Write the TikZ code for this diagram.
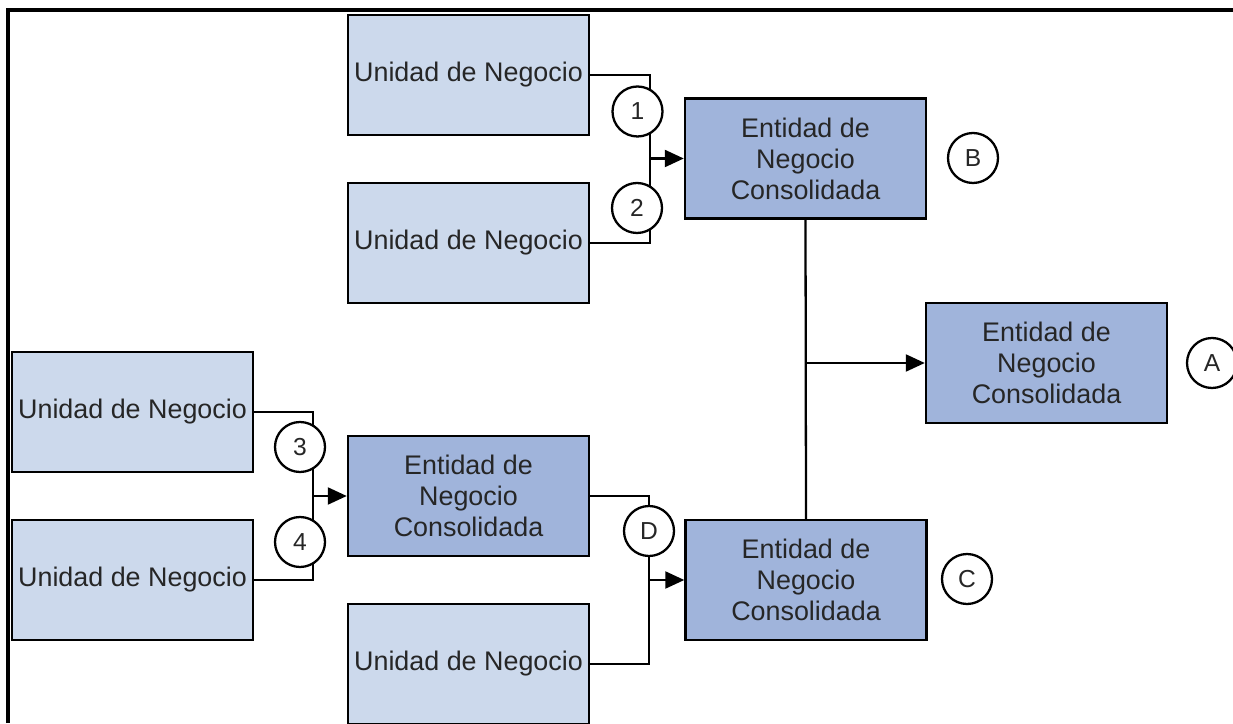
\documentclass[tikz,border=0pt]{standalone}
\usepackage{fontspec}
\setmainfont{Liberation Sans}
\usetikzlibrary{arrows.meta}

\definecolor{unitfill}{RGB}{204,217,236}
\definecolor{entityfill}{RGB}{160,180,219}

\begin{document}
\begin{tikzpicture}[
    unit/.style={draw, line width=1.4pt, fill=unitfill, minimum width=4.82cm, minimum height=2.4cm,
                 inner sep=0pt, text=black!85, font=\fontsize{15.3}{17.6}\selectfont},
    entity/.style={unit, fill=entityfill, align=center},
    tag/.style={draw, circle, line width=1.3pt, fill=white, minimum size=1cm, inner sep=0pt,
                text=black!85, font=\fontsize{14}{16}\selectfont},
    link/.style={line width=1.3pt},
    feed/.style={link, -{Triangle[length=0.38cm, width=0.34cm]}}
]
    \useasboundingbox (0,0) rectangle (24.66,14.46);

    % Frame
    \draw[line width=1.8pt] (0.16,0) -- (0.16,14.26) -- (24.66,14.26);

    % Top Unit Boxes
    \node[unit] (un1) at (9.37,12.96) {Unidad de Negocio};
    \node[unit] (un2) at (9.37,9.6) {Unidad de Negocio};

    % Entity B
    \node[entity] (ecB) at (16.11,11.29) {Entidad de\\Negocio\\Consolidada};
    \coordinate (jB) at (13.0,11.29);
    \draw[link] (un1.east) -| (jB) |- (un2.east);
    \draw[feed] (jB) -- (ecB);
    \node[tag] (c1) at (12.75,12.23) {1};
    \node[tag] (c2) at (12.74,10.3) {2};
    \node[tag] (cB) at (19.46,11.3) {B};

    % Left Unit Boxes
    \node[unit] (un3) at (2.65,6.22) {Unidad de Negocio};
    \node[unit] (un4) at (2.65,2.86) {Unidad de Negocio};

    % Entity D
    \node[entity] (ecD) at (9.37,4.54) {Entidad de\\Negocio\\Consolidada};
    \coordinate (jD) at (6.26,4.54);
    \draw[link] (un3.east) -| (jD) |- (un4.east);
    \draw[feed] (jD) -- (ecD);
    \node[tag] (c3) at (6.0,5.52) {3};
    \node[tag] (c4) at (6.0,3.62) {4};

    % Entity C
    \node[unit] (un5) at (9.37,1.18) {Unidad de Negocio};
    \node[entity] (ecC) at (16.12,2.86) {Entidad de\\Negocio\\Consolidada};
    \coordinate (jC) at (12.98,2.86);
    \draw[link] (ecD.east) -| (jC) |- (un5.east);
    \draw[feed] (jC) -- (ecC);
    \node[tag] (cD) at (12.98,3.84) {D};
    \node[tag] (cC) at (19.34,2.88) {C};

    % Entity A
    \node[entity] (ecA) at (20.93,7.2) {Entidad de\\Negocio\\Consolidada};
    \coordinate (jA) at (16.12,7.2);
    \draw[link] (ecB.south) -- (ecC.north);
    \draw[feed] (jA) -- (ecA);
    \node[tag] (cA) at (24.24,7.2) {A};
\end{tikzpicture}
\end{document}
